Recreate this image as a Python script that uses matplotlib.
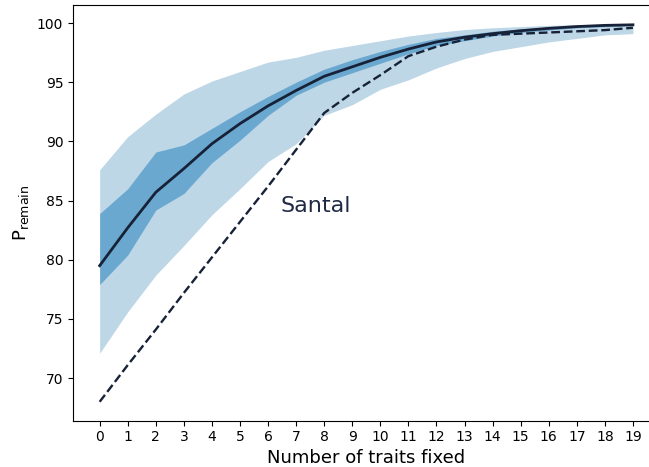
import numpy as np
import matplotlib
matplotlib.use("Agg")
import matplotlib.pyplot as plt

# number of traits fixed
traits = list(range(20))

# mean P_remain
mean_vals = [79.5, 82.7, 85.7, 87.7, 89.8, 91.5, 93.0, 94.3, 95.5, 96.3,
             97.1, 97.8, 98.4, 98.8, 99.1, 99.35, 99.55, 99.7, 99.8, 99.85]

# inner band
inner_hi = [83.9, 86.0, 89.1, 89.7, 91.1, 92.5, 93.8, 95.0, 96.1, 96.9,
            97.6, 98.2, 98.7, 99.0, 99.3, 99.5, 99.65, 99.75, 99.85, 99.9]
inner_lo = [77.9, 80.4, 84.2, 85.6, 88.2, 90.1, 92.2, 93.9, 95.0, 95.8,
            96.6, 97.4, 98.1, 98.5, 98.9, 99.2, 99.4, 99.6, 99.7, 99.8]

# outer band
outer_hi = [87.6, 90.4, 92.3, 94.0, 95.1, 95.9, 96.7, 97.1, 97.7, 98.1,
            98.5, 98.9, 99.2, 99.45, 99.6, 99.7, 99.8, 99.85, 99.9, 99.95]
outer_lo = [72.1, 75.6, 78.7, 81.2, 83.8, 86.0, 88.3, 89.8, 92.2, 93.1,
            94.4, 95.2, 96.2, 97.0, 97.6, 98.0, 98.4, 98.7, 99.0, 99.1]

# Santal
santal = [68.0, 71.1, 74.1, 77.2, 80.2, 83.2, 86.2, 89.3, 92.4, 94.1,
          95.6, 97.2, 98.0, 98.6, 99.0, 99.1, 99.2, 99.3, 99.4, 99.6]

navy = '#172238'

fig = plt.figure(figsize=(6.49, 4.67), dpi=100)
ax = fig.add_axes([73/649, 46.3/467, 586.6/649, 416/467])

ax.fill_between(traits, outer_lo, outer_hi, color='#bdd7e7', lw=0)
ax.fill_between(traits, inner_lo, inner_hi, color='#6ba8d0', lw=0)
ax.plot(traits, mean_vals, color=navy, lw=2)
ax.plot(traits, santal, color=navy, lw=1.7, ls='--')

ax.text(6.44, 84.0, 'Santal', fontsize=16, color='#1f2a44', ha='left', va='baseline')

ax.set_xticks(traits)
ax.set_xlabel('Number of traits fixed', fontsize=13, labelpad=3)
ax.set_ylabel(r'P$_{\mathrm{remain}}$', fontsize=13)
ax.tick_params(labelsize=10)
ax.spines['right'].set_visible(False)

fig.savefig('out.png', dpi=100)
